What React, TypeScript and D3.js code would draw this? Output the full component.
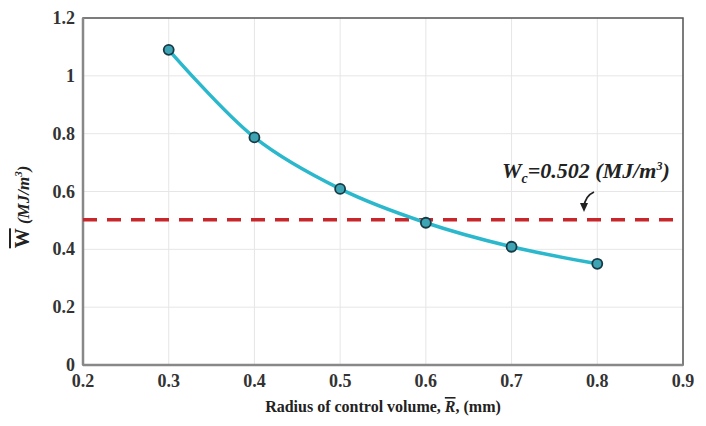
import React from "react";
import * as d3 from "d3";

const radius = [0.3, 0.4, 0.5, 0.6, 0.7, 0.8];
const energy = [1.09, 0.787, 0.609, 0.492, 0.409, 0.35];
const criticalValue = 0.502;
const xTicks = [0.2, 0.3, 0.4, 0.5, 0.6, 0.7, 0.8, 0.9];
const yTicks = [0, 0.2, 0.4, 0.6, 0.8, 1, 1.2];

export default function App() {
  const W = 706, H = 426;
  const m = { left: 83, right: 23, top: 18, bottom: 61 };
  const x = d3.scaleLinear().domain([0.2, 0.9]).range([m.left, W - m.right]);
  const y = d3.scaleLinear().domain([0, 1.2]).range([H - m.bottom, m.top]);
  const pts = radius.map((r, i) => [r, energy[i]] as [number, number]);
  const line = d3
    .line<[number, number]>()
    .x((d) => x(d[0]))
    .y((d) => y(d[1]))
    .curve(d3.curveCatmullRom.alpha(0.5));
  const font = "Liberation Serif, serif";
  return (
    <svg width={W} height={H} style={{ position: "absolute", left: 0, top: 0, background: "#fff", fontFamily: font }}>
      {xTicks.map((t) => (
        <line key={"gx" + t} x1={x(t)} x2={x(t)} y1={y(0)} y2={y(1.2)} stroke="#e6e6e6" strokeWidth={1} />
      ))}
      {yTicks.map((t) => (
        <line key={"gy" + t} x1={x(0.2)} x2={x(0.9)} y1={y(t)} y2={y(t)} stroke="#e6e6e6" strokeWidth={1} />
      ))}
      <rect x={x(0.2)} y={y(1.2)} width={x(0.9) - x(0.2)} height={y(0) - y(1.2)} fill="none" stroke="#555" strokeWidth={1.5} />
      <line x1={x(0.2)} x2={x(0.9)} y1={y(0)} y2={y(0)} stroke="#888" strokeWidth={2.5} />
      <line x1={x(0.2)} x2={x(0.2)} y1={y(0)} y2={y(1.2)} stroke="#888" strokeWidth={2.5} />
      <line
        x1={x(0.2)}
        x2={x(0.9)}
        y1={y(criticalValue)}
        y2={y(criticalValue)}
        stroke="#c8262b"
        strokeWidth={3.5}
        strokeDasharray="14 10"
      />
      <path d={line(pts) || ""} fill="none" stroke="#2bb8cc" strokeWidth={3.5} />
      {pts.map((p, i) => (
        <circle key={i} cx={x(p[0])} cy={y(p[1])} r={5} fill="#3ea4b3" stroke="#173a47" strokeWidth={1.8} />
      ))}
      {xTicks.map((t) => (
        <text key={"tx" + t} x={x(t)} y={y(0) + 22} textAnchor="middle" fontSize={18} fontWeight="bold" fill="#333">
          {t.toFixed(1)}
        </text>
      ))}
      {yTicks.map((t) => (
        <text key={"ty" + t} x={x(0.2) - 8} y={y(t) + 6} textAnchor="end" fontSize={18} fontWeight="bold" fill="#333">
          {String(t)}
        </text>
      ))}
      <text x={(x(0.2) + x(0.9)) / 2} y={412} textAnchor="middle" fontSize={16} fontWeight="bold" fill="#222">
        Radius of control volume, <tspan fontStyle="italic" textDecoration="overline">R</tspan>, (mm)
      </text>
      <text
        transform={`translate(29, 207) rotate(-90)`}
        textAnchor="middle"
        fontSize={20}
        fontWeight="bold"
        fontStyle="italic"
        fill="#222"
      >
        <tspan fontStyle="normal" textDecoration="overline">W</tspan>
        <tspan fontSize={17}> (MJ/m</tspan>
        <tspan fontSize={11} dy={-7}>3</tspan>
        <tspan fontSize={17} dy={7}>)</tspan>
      </text>
      <text x={502} y={178} fontSize={22} fontWeight="bold" fontStyle="italic" fill="#222">
        W<tspan fontSize={14} dy={5}>c</tspan>
        <tspan dy={-5}>=0.502 (MJ/m</tspan>
        <tspan fontSize={12} dy={-8}>3</tspan>
        <tspan dy={8}>)</tspan>
      </text>
      <path d="M 594 192 Q 585 196 584 207" fill="none" stroke="#222" strokeWidth={1.8} />
      <path d="M 580 203 L 584 212 L 588 203 Z" fill="#222" />
    </svg>
  );
}
